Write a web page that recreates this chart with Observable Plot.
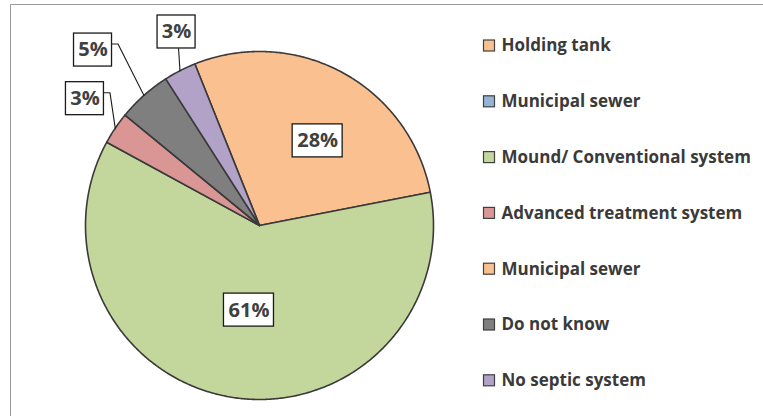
<!DOCTYPE html>
<html><head><meta charset="utf-8">
<script src="https://cdn.jsdelivr.net/npm/d3@7"></script>
<script src="https://cdn.jsdelivr.net/npm/@observablehq/plot@0.6"></script>
<style>
html,body{margin:0;padding:0;background:#fff;}
#wrap{position:relative;width:763px;height:416px;overflow:hidden;}
#frame{position:absolute;left:10px;top:4px;width:800px;height:500px;border-left:1.5px solid #9b9b9b;border-top:1.5px solid #9b9b9b;}
#chart{position:absolute;left:0;top:0;}
</style></head><body><div id="wrap"><div id="frame"></div><div id="chart"></div></div>
<script>
// ---- data ----
const categories = ["Holding tank","Municipal sewer","Mound/ Conventional system","Advanced treatment system","Municipal sewer","Do not know","No septic system"];
const shares = [28, 0, 61, 3, 0, 5, 3];
const colors = ["#FAC090","#95B3D7","#C3D69B","#D99694","#FAC090","#7F7F7F","#B3A2C7"];
const labels = ["28%", "", "61%", "3%", "", "5%", "3%"];

// ---- layout ----
const R = 174, CX = 259, CY = 225;
const startAngle = -21.8; // degrees from 12 o'clock, clockwise
const labelPlacement = [{r:0.59, da:5.9, inside:true}, null, {r:0.49, da:-1.7, inside:true},
  {r:1.24, da:2}, null, {r:1.39, da:-1.9}, {r:1.21, da:4}];
const px = v => v / R;
const toX = p => (p - CX) / R, toY = p => (CY - p) / R;
const rad = a => a * Math.PI / 180;

const total = d3.sum(shares);
let acc = startAngle;
const slices = shares.map((v, i) => {
  const a0 = acc, a1 = acc + v / total * 360; acc = a1;
  return {i, name: categories[i], value: v, color: colors[i], a0, a1, mid: (a0 + a1) / 2};
});

// slice polygons
const slicePts = [];
for (const s of slices) {
  if (s.value <= 0) continue;
  slicePts.push({slice: s.i, color: s.color, x: 0, y: 0});
  const n = Math.max(2, Math.ceil((s.a1 - s.a0) / 0.5));
  for (let k = 0; k <= n; k++) {
    const a = rad(s.a0 + (s.a1 - s.a0) * k / n);
    slicePts.push({slice: s.i, color: s.color, x: Math.sin(a), y: Math.cos(a)});
  }
  slicePts.push({slice: s.i, color: s.color, x: 0, y: 0});
}

// labels
const boxH = 33;
const labelData = [], leaderPts = [];
slices.forEach(s => {
  const pl = labelPlacement[s.i];
  if (!pl || s.value <= 0) return;
  const a = rad(s.mid + pl.da);
  const x = pl.r * Math.sin(a), y = pl.r * Math.cos(a);
  const w = 14 + 12 * labels[s.i].length;
  labelData.push({text: labels[s.i], x, y, x1: x - px(w/2), x2: x + px(w/2), y1: y - px(boxH/2), y2: y + px(boxH/2)});
  if (!pl.inside) {
    const am = rad(s.mid);
    const P = {x: Math.sin(am), y: Math.cos(am)};
    const pts = [P];
    if (Math.abs(P.x - x) < px(w/2)) {
      pts.push({x: x + px(2), y: y - px(boxH/2)});
    } else {
      const A = {x: x + px(w/2), y: y + px(6)};
      pts.push({x: A.x + px(6), y: A.y}, A);
    }
    pts.forEach(p => leaderPts.push({id: s.i, ...p}));
  }
});

// legend
const legendData = categories.map((c, i) => ({name: c, color: colors[i], y: toY(45.5 + 55.8 * i)}));
const lgX0 = toX(483.5), lgX1 = toX(494.5), lgT = toX(501), lgH = px(5.5);

const chart = Plot.plot({
  width: 763, height: 416, margin: 0,
  x: {domain: [-1, 1], range: [CX - R, CX + R], axis: null},
  y: {domain: [-1, 1], range: [CY + R, CY - R], axis: null},
  style: {background: "transparent", fontFamily: "'Open Sans', sans-serif"},
  marks: [
    Plot.line(slicePts, {x: "x", y: "y", z: "slice", fill: "color", stroke: "#3a3a3a", strokeWidth: 1.6, strokeLinejoin: "round", curve: "linear"}),
    Plot.line(leaderPts, {x: "x", y: "y", z: "id", stroke: "#1a1a1a", strokeWidth: 1.1}),
    Plot.rect(labelData, {x1: "x1", x2: "x2", y1: "y1", y2: "y2", fill: "white", stroke: "#1a1a1a", strokeWidth: 1.3}),
    Plot.text(labelData, {x: "x", y: "y", text: "text", fontSize: 20, fontWeight: "bold", fill: "#404040", fontFamily: "'Open Sans', sans-serif"}),
    Plot.rect(legendData, {x1: lgX0, x2: lgX1, y1: d => d.y - lgH, y2: d => d.y + lgH, fill: "color", stroke: "#404040", strokeWidth: 1.2}),
    Plot.text(legendData, {x: lgT, y: "y", text: "name", textAnchor: "start", fontSize: 17, fontWeight: "bold", fill: "#3a3a3a", fontFamily: "'Open Sans', sans-serif"})
  ]
});
document.getElementById("chart").appendChild(chart);
</script></body></html>
